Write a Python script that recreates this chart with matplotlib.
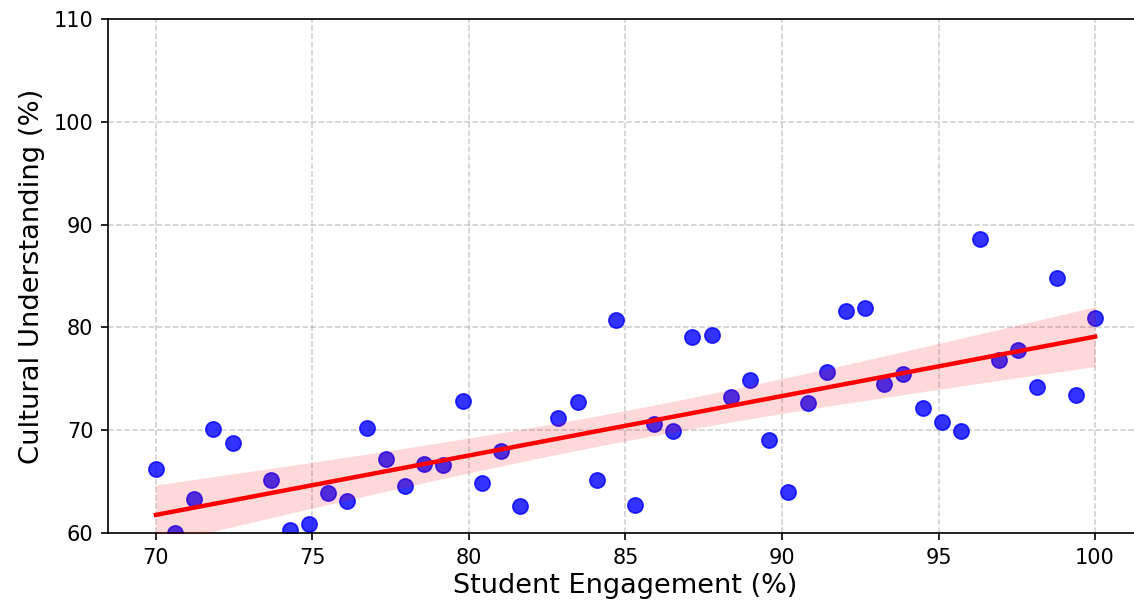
import numpy as np
import matplotlib.pyplot as plt

# данные
engagement = [70.0, 70.61, 71.22, 71.84, 72.45, 73.06, 73.67, 74.29, 74.90, 75.51,
              76.12, 76.73, 77.35, 77.96, 78.57, 79.18, 79.80, 80.41, 81.02, 81.63,
              82.24, 82.86, 83.47, 84.08, 84.69, 85.31, 85.92, 86.53, 87.14, 87.76,
              88.37, 88.98, 89.59, 90.20, 90.82, 91.43, 92.04, 92.65, 93.27, 93.88,
              94.49, 95.10, 95.71, 96.33, 96.94, 97.55, 98.16, 98.78, 99.39, 100.0]
understanding = [66.18, 60.0, 63.28, 70.15, 68.72, 56.0, 65.11, 60.26, 60.91, 63.93,
                 63.12, 70.18, 67.22, 64.55, 66.67, 66.57, 72.88, 64.91, 68.0, 62.6,
                 56.5, 71.15, 72.75, 65.2, 80.75, 62.7, 70.65, 69.97, 79.03, 79.25,
                 73.21, 74.84, 69.0, 63.99, 72.69, 75.68, 81.62, 81.92, 74.51, 75.45,
                 72.18, 70.84, 69.90, 88.64, 76.85, 77.76, 74.16, 84.84, 73.38, 80.91]

x = np.array(engagement)
y = np.array(understanding)

# линейная регрессия и 95% доверительный интервал
b, a = np.polyfit(x, y, 1)
xs = np.linspace(x.min(), x.max(), 100)
ys = a + b * xs
n = len(x)
resid = y - (a + b * x)
s = np.sqrt(np.sum(resid ** 2) / (n - 2))
sxx = np.sum((x - x.mean()) ** 2)
ci = 2.01 * s * np.sqrt(1 / n + (xs - x.mean()) ** 2 / sxx)

fig = plt.figure(figsize=(11.34, 6.07), dpi=100)
ax = fig.add_axes([0.0952, 0.1219, 0.9127, 0.8468])

ax.scatter(x, y, s=120, color='blue', alpha=0.8, linewidths=1.2, zorder=2)
ax.fill_between(xs, ys - ci, ys + ci, color='red', alpha=0.15, linewidth=0, zorder=3)
ax.plot(xs, ys, color='red', linewidth=3.2, zorder=4)

ax.set_xlim(68.47, 101.53)
ax.set_ylim(60, 110)
ax.set_xticks([70, 75, 80, 85, 90, 95, 100])
ax.set_yticks([60, 70, 80, 90, 100, 110])
ax.tick_params(labelsize=15, length=5.25, width=1.2, pad=5.25)
for sp in ax.spines.values():
    sp.set_linewidth(1.2)
ax.set_xlabel("Student Engagement (%)", fontsize=19.5)
ax.set_ylabel("Cultural Understanding (%)", fontsize=19.7, labelpad=6)
ax.grid(True, linestyle='--', color='gray', alpha=0.4, linewidth=1.1)
ax.set_axisbelow(True)

plt.savefig('out.png', dpi=100)
